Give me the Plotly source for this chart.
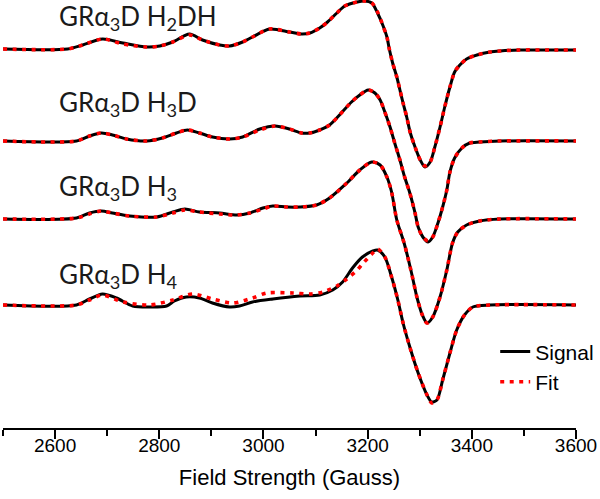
import plotly.graph_objects as go

# ---------------- data ----------------
field_h2dh = [2500, 2624, 2653, 2691, 2730, 2776, 2801, 2826, 2858, 2883, 2916, 2935, 2960, 2979, 3012,
              3050, 3073, 3089, 3108, 3123, 3141, 3156, 3180, 3194, 3208, 3219, 3229, 3237, 3242, 3248,
              3256, 3262, 3268, 3275, 3282, 3291, 3301, 3310, 3320, 3329, 3339, 3348, 3358, 3367, 3377,
              3390, 3410, 3435, 3454, 3492, 3550, 3600]
signal_h2dh = [0, 0, 4, 10, 6, 2, 3, 7, 15, 9, 4, 3, 7, 12, 20,
               17, 15, 16, 21, 27, 36, 43, 47, 48, 46, 36, 24, 12, -1, -14,
               -28, -41, -54, -68, -84, -98, -111, -118, -113, -98, -78, -58, -38, -23, -16,
               -10, -6, -3, -2, -1, -1, -1]
fit_h2dh = [0, 0, 4, 10, 5, 2, 3, 7, 14, 9, 4, 3, 7, 12, 20,
            17, 15, 16, 21, 27, 36, 43, 47, 48, 46, 37, 24, 12, -1, -14,
            -28, -41, -54, -68, -84, -98, -111, -117, -113, -98, -78, -58, -38, -23, -16,
            -10, -6, -3, -2, -1, -1, -1]

field_h3d = [2500, 2641, 2666, 2689, 2710, 2737, 2776, 2806, 2833, 2854, 2877, 2902, 2935, 2960, 2993,
             3022, 3050, 3073, 3089, 3108, 3127, 3146, 3169, 3185, 3201, 3214, 3224, 3233, 3243, 3252,
             3262, 3271, 3281, 3291, 3297, 3306, 3316, 3325, 3335, 3344, 3352, 3358, 3367, 3381, 3396,
             3415, 3454, 3600]
signal_h3d = [0, 0, 5, 8, 6, 2, 0, 3, 8, 11, 8, 4, 2, 4, 12,
              15, 12, 8, 8, 11, 16, 26, 39, 46, 51, 48, 41, 29, 14, -2,
              -19, -36, -52, -72, -86, -96, -101, -96, -82, -66, -49, -31, -17, -7, -2,
              -1, 0, 0]
fit_h3d = [0, 0, 5, 8, 6, 2, 0, 3, 8, 11, 8, 4, 2, 4, 11,
           15, 12, 8, 8, 11, 16, 26, 39, 46, 51, 48, 41, 29, 14, -2,
           -19, -36, -52, -72, -86, -96, -100, -96, -82, -66, -49, -31, -17, -7, -2,
           -1, 0, 0]

field_h3 = [2500, 2641, 2666, 2689, 2710, 2743, 2795, 2826, 2849, 2877, 2916, 2949, 2974, 2999, 3018,
            3045, 3070, 3102, 3127, 3160, 3185, 3208, 3224, 3237, 3246, 3256, 3270, 3283, 3295, 3305,
            3314, 3325, 3339, 3352, 3363, 3373, 3390, 3415, 3454, 3600]
signal_h3 = [-1, 0, 5, 7, 5, 2, 1, 6, 9, 6, 5, 3, 5, 10, 12,
             11, 11, 13, 20, 35, 48, 56, 53, 41, 26, -2, -25, -52, -80, -97,
             -105, -99, -79, -52, -25, -14, -7, -3, -1, -1]
fit_h3 = [-1, 0, 4, 7, 5, 2, 1, 5, 8, 6, 4, 3, 5, 9, 12,
          11, 11, 13, 20, 35, 48, 56, 53, 41, 26, -2, -25, -52, -80, -97,
          -105, -99, -79, -52, -25, -14, -7, -3, -1, -1]

field_h4 = [2500, 2641, 2666, 2691, 2718, 2749, 2782, 2814, 2829, 2852, 2877, 2902, 2935, 2954, 2979,
            3018, 3070, 3108, 3133, 3152, 3171, 3190, 3210, 3219, 3233, 3246, 3258, 3268, 3281, 3297,
            3314, 3323, 3333, 3344, 3358, 3371, 3386, 3402, 3435, 3600]
signal_h4 = [0, 0, 6, 11, 7, -1, -2, -1, 4, 8, 7, 2, -2, -1, 3,
             6, 9, 10, 15, 23, 37, 48, 54, 55, 48, 28, 5, -18, -42, -68,
             -90, -97, -95, -75, -48, -25, -10, -2, 0, 0]
fit_field_h4 = [2500, 2641, 2666, 2691, 2730, 2782, 2826, 2864, 2902, 2941, 2979, 3006, 3056, 3089, 3114,
                3141, 3160, 3180, 3190, 3208, 3219, 3233, 3246, 3258, 3268, 3281, 3297, 3314, 3323, 3333,
                3344, 3358, 3371, 3386, 3402, 3435, 3600]
fit_h4 = [0, 0, 5, 10, 3, 0, 5, 11, 6, 2, 7, 12, 12, 11, 13,
          19, 26, 35, 41, 51, 56, 48, 28, 5, -18, -42, -68, -90, -98, -95,
          -75, -48, -25, -10, -2, 0, 0]

sample_labels = ["GRα<sub>3</sub>D H<sub>2</sub>DH", "GRα<sub>3</sub>D H<sub>3</sub>D",
                 "GRα<sub>3</sub>D H<sub>3</sub>", "GRα<sub>3</sub>D H<sub>4</sub>"]
stack_offsets = [-49, -141, -218, -305]   # vertical stacking of the spectra (a.u.)
x_ticks = [2600, 2800, 3000, 3200, 3400, 3600]

spectra = [
    (field_h2dh, signal_h2dh, field_h2dh, fit_h2dh),
    (field_h3d, signal_h3d, field_h3d, fit_h3d),
    (field_h3, signal_h3, field_h3, fit_h3),
    (field_h4, signal_h4, fit_field_h4, fit_h4),
]

# ---------------- figure ----------------
fig = go.Figure()
for i, (fx, sy, ffx, fy) in enumerate(spectra):
    off = stack_offsets[i]
    fig.add_trace(go.Scatter(
        x=fx, y=[v + off for v in sy], mode="lines", name="Signal",
        line=dict(color="black", width=3, shape="spline", smoothing=0.8),
        showlegend=(i == 0), legendrank=1))
for i, (fx, sy, ffx, fy) in enumerate(spectra):
    off = stack_offsets[i]
    fig.add_trace(go.Scatter(
        x=ffx, y=[v + off for v in fy], mode="lines", name="Fit",
        line=dict(color="#ff0000", width=3.6, dash="4px,5.5px", shape="spline", smoothing=0.8),
        showlegend=(i == 0), legendrank=2))

label_y = [-17, -103, -187, -275]
for lab, ly in zip(sample_labels, label_y):
    fig.add_annotation(x=2603, y=ly, xref="x", yref="y", text=lab, showarrow=False,
                       xanchor="left", yanchor="middle",
                       font=dict(family="Lato", size=26, color="#1a1a1a"))

fig.update_layout(
    width=600, height=499,
    margin=dict(l=3, r=24, t=0, b=71),
    paper_bgcolor="white", plot_bgcolor="white",
    font=dict(family="Liberation Sans, Arial", color="black"),
    legend=dict(x=0.859, y=0.226, xanchor="left", yanchor="top",
                bgcolor="rgba(0,0,0,0)", borderwidth=0,
                font=dict(family="Liberation Sans, Arial", size=21, color="black"),
                traceorder="normal"),
    xaxis=dict(
        range=[2500, 3600], tickvals=x_ticks, ticks="outside", ticklen=9, tickwidth=2,
        tickcolor="black", showline=True, linewidth=2, linecolor="black",
        showgrid=False, zeroline=False, ticklabelstandoff=-10,
        tickfont=dict(family="Liberation Sans, Arial", size=19, color="black"),
        minor=dict(dtick=100, tick0=2500, ticks="outside", ticklen=6, tickwidth=2, tickcolor="black"),
        title=dict(text="Field Strength (Gauss)", standoff=15,
                   font=dict(family="Liberation Sans, Arial", size=22, color="black")),
    ),
    yaxis=dict(visible=False, range=[-428, 0], fixedrange=True),
)

fig.write_html("out.html", config={"displayModeBar": False},
               post_script="document.body.style.margin='0px';")
